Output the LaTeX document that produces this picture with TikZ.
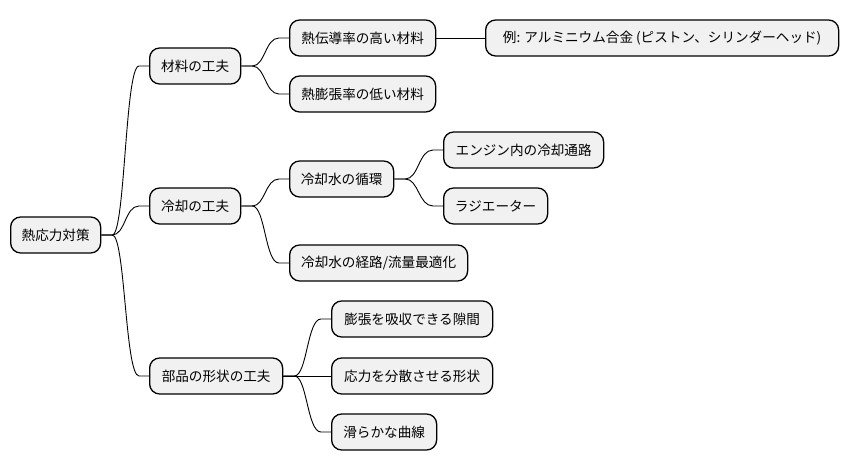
\documentclass[tikz,border=0pt]{standalone}
\usepackage{fontspec}
\setmainfont{Noto Sans CJK JP}
\usetikzlibrary{calc}
\definecolor{boxfill}{HTML}{F1F1F1}
\tikzset{
  mmbox/.style={draw=black, line width=1.3bp, fill=boxfill, rounded corners=10bp,
    anchor=west, inner xsep=11bp, inner ysep=0pt, minimum height=36bp,
    font=\fontsize{13.6bp}{16bp}\selectfont},
  mmlink/.style={to path={let \p1=(\tikztostart), \p2=(\tikztotarget) in
    -- (\x1+11bp,\y1) .. controls (\x1/2+\x2/2,\y1) and (\x1/2+\x2/2,\y2) .. (\x2-10bp,\y2) -- (\tikztotarget)}},
  mmline/.style={line width=0.9bp, black}
}
\begin{document}
\begin{tikzpicture}[x=1bp,y=-1bp]
\useasboundingbox (0,0) rectangle (849,471);
\node[mmbox, minimum width=89bp] (root) at (10,235) {熱応力対策};
\node[mmbox, minimum width=91bp] (m1) at (149,66) {材料の工夫};
\node[mmbox, minimum width=146bp] (m11) at (289,38) {熱伝導率の高い材料};
\node[mmbox, minimum width=353bp] (m111) at (485,38) {例: アルミニウム合金 (ピストン、シリンダーヘッド)};
\node[mmbox, minimum width=146bp] (m12) at (289,94) {熱膨張率の低い材料};
\node[mmbox, minimum width=91bp] (m2) at (149,206) {冷却の工夫};
\node[mmbox, minimum width=104bp] (m21) at (289,179) {冷却水の循環};
\node[mmbox, minimum width=160bp] (m211) at (443,150) {エンジン内の冷却通路};
\node[mmbox, minimum width=104bp] (m212) at (443,206) {ラジエーター};
\node[mmbox, minimum width=178bp] (m22) at (289,263) {冷却水の経路/流量最適化};
\node[mmbox, minimum width=133bp] (m3) at (149,376) {部品の形状の工夫};
\node[mmbox, minimum width=161bp] (m31) at (331,319) {膨張を吸収できる隙間};
\node[mmbox, minimum width=161bp] (m32) at (331,376) {応力を分散させる形状};
\node[mmbox, minimum width=105bp] (m33) at (331,432) {滑らかな曲線};
\begin{scope}[mmline]
\draw (root.east) to[mmlink] (m1.west);
\draw (root.east) to[mmlink] (m2.west);
\draw (root.east) to[mmlink] (m3.west);
\draw (m1.east) to[mmlink] (m11.west);
\draw (m1.east) to[mmlink] (m12.west);
\draw (m11.east) -- (m111.west);
\draw (m2.east) to[mmlink] (m21.west);
\draw (m2.east) to[mmlink] (m22.west);
\draw (m21.east) to[mmlink] (m211.west);
\draw (m21.east) to[mmlink] (m212.west);
\draw (m3.east) to[mmlink] (m31.west);
\draw (m3.east) -- (m32.west);
\draw (m3.east) to[mmlink] (m33.west);
\end{scope}
\end{tikzpicture}
\end{document}
